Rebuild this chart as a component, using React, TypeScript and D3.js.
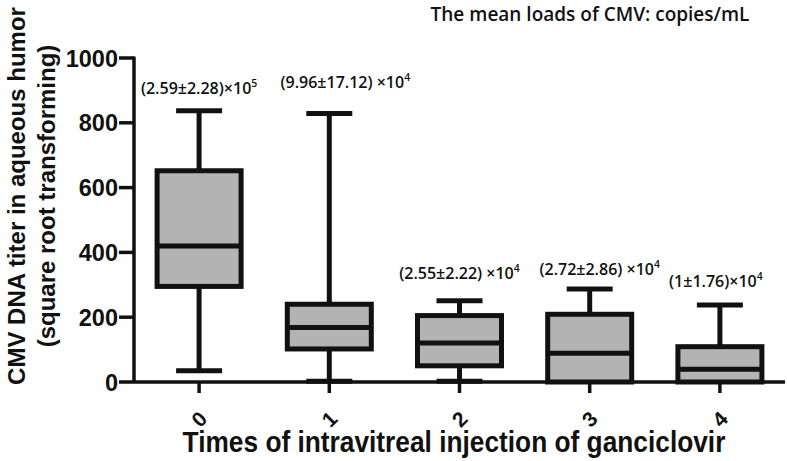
import React from "react";
import * as d3 from "d3";

const categories = ["0", "1", "2", "3", "4"];
const whiskerHigh = [837, 829, 251, 287, 238];
const q3 = [652, 240, 205, 209, 109];
const median = [420, 168, 120, 89, 39];
const q1 = [295, 102, 50, 0, 0];
const whiskerLow = [35, 2, 2, 0, 0];
const meanText = ["(2.59±2.28)×10", "(9.96±17.12) ×10", "(2.55±2.22) ×10", "(2.72±2.86) ×10", "(1±1.76)×10"];
const meanExp = ["5", "4", "4", "4", "4"];
const yTicks = [0, 200, 400, 600, 800, 1000];

// label placement (layout only)
const labelDx = [0, 16, 0, 10, -4];
const labelDy = [-17, -25, -22, -14, -18];

const W = 787;
const H = 461;
const left = 134;
const right = 785;
const top = 58;
const bottom = 382;

export default function App() {
  const x = d3.scaleBand<string>().domain(categories).range([left, right]).padding(0);
  const y = d3.scaleLinear().domain([0, 1000]).range([bottom, top]);
  const boxW = 84;
  const capW = 46;
  const sw = 5;
  const font = "Arial, 'Liberation Sans', sans-serif";
  const lblFont = "'Open Sans', sans-serif";

  return (
    <svg width={W} height={H} style={{ position: "absolute", left: 0, top: 0, background: "#fff" }}>
      {/* title */}
      <text x={590} y={21} textAnchor="middle" fontFamily={lblFont} fontWeight={600} fontSize={19} fill="#111">
        The mean loads of CMV: copies/mL
      </text>

      {/* y axis title */}
      <g transform="translate(25,196) rotate(-90)">
        <text x={0} y={0} textAnchor="middle" fontFamily={font} fontWeight="bold" fontSize={24} fill="#111">
          CMV DNA titer in aqueous humor
        </text>
        <text x={0} y={30} textAnchor="middle" fontFamily={font} fontWeight="bold" fontSize={24} fill="#111">
          (square root transforming)
        </text>
      </g>

      {/* boxes */}
      {categories.map((c, i) => {
        const cx = (x(c) as number) + x.bandwidth() / 2;
        return (
          <g key={c} stroke="#111" strokeWidth={sw} fill="none">
            <line x1={cx} x2={cx} y1={y(whiskerHigh[i])} y2={y(q3[i])} />
            <line x1={cx} x2={cx} y1={y(q1[i])} y2={y(whiskerLow[i])} />
            <line x1={cx - capW / 2} x2={cx + capW / 2} y1={y(whiskerHigh[i])} y2={y(whiskerHigh[i])} />
            {whiskerLow[i] < q1[i] && (
              <line x1={cx - capW / 2} x2={cx + capW / 2} y1={y(whiskerLow[i])} y2={y(whiskerLow[i])} />
            )}
            <rect x={cx - boxW / 2} y={y(q3[i])} width={boxW} height={y(q1[i]) - y(q3[i])} fill="#b3b3b3" />
            <line x1={cx - boxW / 2} x2={cx + boxW / 2} y1={y(median[i])} y2={y(median[i])} />
          </g>
        );
      })}

      {/* mean annotations */}
      {categories.map((c, i) => {
        const cx = (x(c) as number) + x.bandwidth() / 2;
        return (
          <text
            key={"m" + c}
            x={cx + labelDx[i]}
            y={y(whiskerHigh[i]) + labelDy[i]}
            textAnchor="middle"
            fontFamily={lblFont}
            fontWeight={600}
            fontSize={16}
            fill="#111"
          >
            {meanText[i]}
            <tspan dy={-7} fontSize={10.5}>{meanExp[i]}</tspan>
          </text>
        );
      })}

      {/* y axis */}
      <g stroke="#111" strokeWidth={3.5}>
        <line x1={left} x2={left} y1={top - 1.5} y2={bottom} />
        {yTicks.map((t) => (
          <line key={t} x1={left - 15} x2={left} y1={y(t)} y2={y(t)} />
        ))}
      </g>
      {yTicks.map((t) => (
        <text key={"yl" + t} x={left - 16} y={y(t) + 8.5} textAnchor="end" fontFamily={font} fontWeight="bold" fontSize={23.5} fill="#111">
          {t}
        </text>
      ))}

      {/* x axis */}
      <g stroke="#111" strokeWidth={3.5}>
        <line x1={left} x2={right} y1={bottom} y2={bottom} />
        {categories.map((c) => {
          const cx = (x(c) as number) + x.bandwidth() / 2;
          return <line key={c} x1={cx} x2={cx} y1={bottom} y2={bottom + 11} />;
        })}
      </g>
      {categories.map((c) => {
        const cx = (x(c) as number) + x.bandwidth() / 2;
        return (
          <text
            key={"xl" + c}
            transform={`translate(${cx},${bottom + 37}) rotate(-45)`}
            textAnchor="middle"
            dominantBaseline="central"
            fontFamily={font}
            fontWeight="bold"
            fontSize={21}
            fill="#111"
          >
            {c}
          </text>
        );
      })}

      {/* x title */}
      <text
        transform="translate(454,452) scale(1,1.1)"
        textAnchor="middle"
        fontFamily={font}
        fontWeight="bold"
        fontSize={26.3}
        fill="#111"
      >
        Times of intravitreal injection of ganciclovir
      </text>
    </svg>
  );
}
